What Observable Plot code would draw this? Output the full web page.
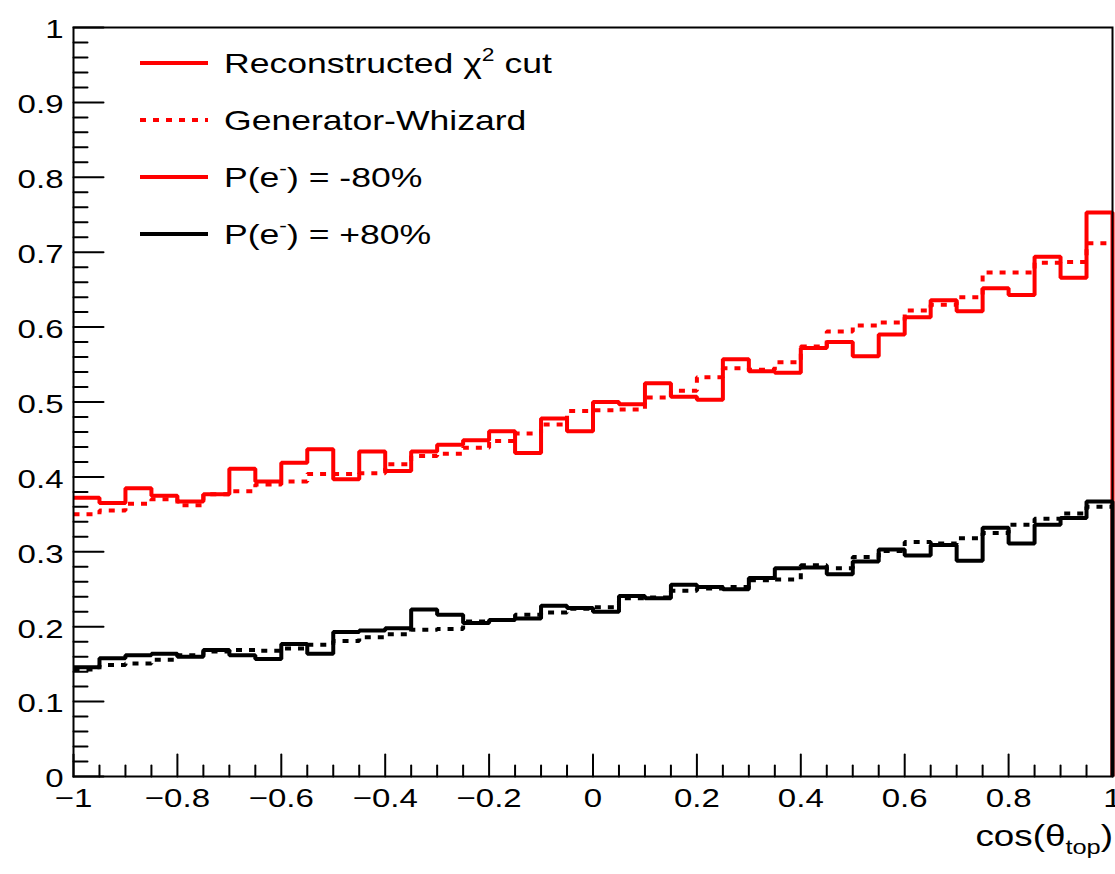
<!DOCTYPE html>
<html><head><meta charset="utf-8">
<script src="https://cdn.jsdelivr.net/npm/d3@7"></script>
<script src="https://cdn.jsdelivr.net/npm/@observablehq/plot@0.6"></script>
<style>
body{margin:0;background:#fff;}
#chart{width:1115px;height:874px;}
</style>
</head><body><div id="chart"></div>
<script>
// ---- data ----
const binEdges = [-1,-0.95,-0.9,-0.85,-0.8,-0.75,-0.7,-0.65,-0.6,-0.55,-0.5,-0.45,-0.4,-0.35,-0.3,-0.25,-0.2,-0.15,-0.1,-0.05,
  0,0.05,0.1,0.15,0.2,0.25,0.3,0.35,0.4,0.45,0.5,0.55,0.6,0.65,0.7,0.75,0.8,0.85,0.9,0.95,1];

// P(e-) = -80%, reconstructed (solid red)
const recoMinus80 = [0.372,0.365,0.385,0.375,0.367,0.377,0.411,0.394,0.419,0.437,
  0.397,0.434,0.408,0.434,0.443,0.449,0.461,0.432,0.478,0.461,
  0.500,0.497,0.525,0.507,0.503,0.557,0.541,0.539,0.572,0.580,
  0.561,0.590,0.613,0.636,0.621,0.652,0.643,0.694,0.666,0.753];
// P(e-) = -80%, generator Whizard (dotted red)
const genMinus80 = [0.350,0.355,0.364,0.370,0.362,0.377,0.381,0.390,0.394,0.404,
  0.404,0.405,0.417,0.428,0.431,0.439,0.448,0.458,0.470,0.488,
  0.489,0.490,0.506,0.515,0.533,0.545,0.543,0.553,0.574,0.594,
  0.602,0.606,0.622,0.630,0.640,0.673,0.673,0.686,0.687,0.712];
// P(e-) = +80%, reconstructed (solid black)
const recoPlus80 = [0.146,0.158,0.162,0.164,0.160,0.169,0.162,0.157,0.177,0.164,
  0.193,0.195,0.198,0.223,0.216,0.205,0.209,0.211,0.228,0.225,
  0.220,0.241,0.238,0.256,0.253,0.250,0.265,0.278,0.279,0.270,
  0.287,0.303,0.295,0.309,0.288,0.332,0.311,0.336,0.345,0.367];
// P(e-) = +80%, generator Whizard (dotted black)
const genPlus80 = [0.143,0.149,0.151,0.156,0.162,0.167,0.169,0.168,0.171,0.176,
  0.181,0.186,0.190,0.196,0.197,0.207,0.209,0.216,0.219,0.224,
  0.226,0.238,0.239,0.248,0.251,0.253,0.262,0.263,0.282,0.278,
  0.293,0.301,0.313,0.311,0.318,0.325,0.336,0.344,0.351,0.360];

const xTicks = [-1,-0.8,-0.6,-0.4,-0.2,0,0.2,0.4,0.6,0.8,1];
const xTickLabels = ["\u22121","\u22120.8","\u22120.6","\u22120.4","\u22120.2","0","0.2","0.4","0.6","0.8","1"];
const xMinor = [-0.95,-0.9,-0.85,-0.75,-0.7,-0.65,-0.55,-0.5,-0.45,-0.35,-0.3,-0.25,-0.15,-0.1,-0.05,
  0.05,0.1,0.15,0.25,0.3,0.35,0.45,0.5,0.55,0.65,0.7,0.75,0.85,0.9,0.95];
const yTicks = [0,0.1,0.2,0.3,0.4,0.5,0.6,0.7,0.8,0.9,1];
const yTickLabels = ["0","0.1","0.2","0.3","0.4","0.5","0.6","0.7","0.8","0.9","1"];
const yMinor = [0.02,0.04,0.06,0.08,0.12,0.14,0.16,0.18,0.22,0.24,0.26,0.28,0.32,0.34,0.36,0.38,
  0.42,0.44,0.46,0.48,0.52,0.54,0.56,0.58,0.62,0.64,0.66,0.68,0.72,0.74,0.76,0.78,
  0.82,0.84,0.86,0.88,0.92,0.94,0.96,0.98];

const xTitle = "cos(θ";
const xTitleSub = "top";

// ---- build step tables ----
function steps(vals, drop) {
  const pts = vals.map((v, i) => ({x: binEdges[i], y: v}));
  pts.push({x: binEdges[vals.length], y: vals[vals.length - 1]});
  if (drop) pts.push({x: binEdges[vals.length], y: 0});
  return pts;
}

const FONT = "'Liberation Sans', Arial, Helvetica, sans-serif";
const RED = "#ff0000";
const DOT = "6,7";
const tickShape = {draw(ctx, l) { ctx.moveTo(0, 0); ctx.lineTo(0, -l); }};

const plot = Plot.plot({
  width: 1115,
  height: 874,
  marginLeft: 73,
  marginRight: 3,
  marginTop: 27,
  marginBottom: 98,
  style: {fontFamily: FONT, fontSize: "26px", color: "black", background: "white"},
  x: {domain: [-1, 1]},
  y: {domain: [0, 1]},
  marks: [
    Plot.line(steps(recoMinus80, true), {x: "x", y: "y", curve: "step-after", stroke: RED, strokeWidth: 4, strokeLinejoin: "miter", strokeLinecap: "butt"}),
    Plot.line(steps(genMinus80, false), {x: "x", y: "y", curve: "step-after", stroke: RED, strokeWidth: 4, strokeDasharray: DOT, strokeLinejoin: "miter", strokeLinecap: "butt"}),
    Plot.line(steps(recoPlus80, true), {x: "x", y: "y", curve: "step-after", stroke: "black", strokeWidth: 4, strokeLinejoin: "miter", strokeLinecap: "butt"}),
    Plot.line(steps(genPlus80, false), {x: "x", y: "y", curve: "step-after", stroke: "black", strokeWidth: 4, strokeDasharray: DOT, strokeLinejoin: "miter", strokeLinecap: "butt"}),
    Plot.frame({stroke: "black", strokeWidth: 2}),
    Plot.vector(yTicks, {y: d => d, frameAnchor: "left", length: 30, rotate: 90, anchor: "start", shape: tickShape, stroke: "black", strokeWidth: 2}),
    Plot.vector(yMinor, {y: d => d, frameAnchor: "left", length: 14, rotate: 90, anchor: "start", shape: tickShape, stroke: "black", strokeWidth: 2}),
    Plot.vector(xTicks, {x: d => d, frameAnchor: "bottom", length: 22, rotate: 0, anchor: "start", shape: tickShape, stroke: "black", strokeWidth: 2}),
    Plot.vector(xMinor, {x: d => d, frameAnchor: "bottom", length: 11, rotate: 0, anchor: "start", shape: tickShape, stroke: "black", strokeWidth: 2}),
    Plot.axisY(yTicks, {tickSize: 0, tickPadding: 10, dy: 2.5, tickFormat: d => yTickLabels[yTicks.indexOf(d)], label: null, fontSize: 26}),
    Plot.axisX(xTicks, {tickSize: 0, tickPadding: 12, tickFormat: d => xTickLabels[xTicks.indexOf(d)], label: null, fontSize: 26})
  ]
});

document.getElementById("chart").appendChild(plot);
const svg = d3.select(plot);

// ---- legend ----
const legendLabels = [
  {parts: [["Reconstructed χ", 0], ["2", 1], [" cut", 0]], stroke: RED, dash: null},
  {parts: [["Generator-Whizard", 0]], stroke: RED, dash: DOT},
  {parts: [["P(e", 0], ["-", 1], [") = -80%", 0]], stroke: RED, dash: null},
  {parts: [["P(e", 0], ["-", 1], [") = +80%", 0]], stroke: "black", dash: null}
];
const lg = svg.append("g").attr("font-family", FONT).attr("text-anchor", "start");
legendLabels.forEach((e, i) => {
  const yy = 63 + i * 57;
  lg.append("line").attr("x1", 140).attr("x2", 208).attr("y1", yy).attr("y2", yy)
    .attr("stroke", e.stroke).attr("stroke-width", 4)
    .attr("stroke-dasharray", e.dash);
  const t = lg.append("text").attr("x", 224).attr("y", yy + 10.5).attr("font-size", 28)
    .attr("fill", "black").attr("text-anchor", "start");
  let raised = false;
  e.parts.forEach(([s, sup]) => {
    const ts = t.append("tspan").text(s);
    if (sup && !raised) { ts.attr("font-size", 18).attr("dy", -12); raised = true; }
    else if (!sup && raised) { ts.attr("dy", 12); raised = false; }
  });
});

// ---- x-axis title ----
const tt = svg.append("text").attr("x", 1113).attr("y", 846).attr("text-anchor", "end")
  .attr("font-family", FONT).attr("font-size", 29).attr("fill", "black");
tt.append("tspan").text(xTitle);
tt.append("tspan").attr("font-size", 20).attr("dy", 8).text(xTitleSub);
tt.append("tspan").attr("dy", -8).text(")");

// ---- horizontal stretch of all text to mimic the reference's aspect ----
const S = 1.27;
svg.selectAll("text").each(function() {
  const bb = this.getBBox();
  const anchor = getComputedStyle(this).textAnchor;
  const ax = anchor === "end" ? bb.x + bb.width : anchor === "middle" ? bb.x + bb.width / 2 : bb.x;
  const t = this.getAttribute("transform") || "";
  this.setAttribute("transform", `${t} translate(${ax},0) scale(${S},1) translate(${-ax},0)`);
});
</script>
</body></html>
